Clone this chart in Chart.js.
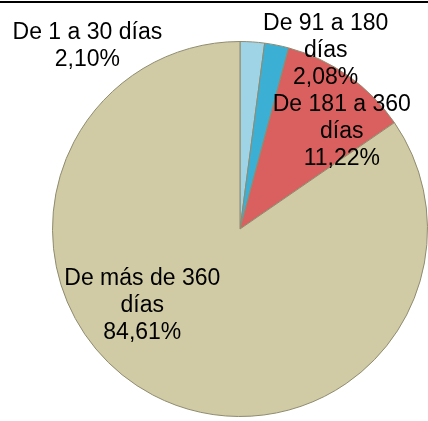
<!DOCTYPE html>
<html>
<head>
<meta charset="utf-8">
<script src="https://cdn.jsdelivr.net/npm/chart.js@4"></script>
<style>
  html, body { margin: 0; padding: 0; background: #fff; }
  #wrap { width: 428px; height: 421px; position: relative; }
</style>
</head>
<body>
<div id="wrap"><canvas id="pieChart"></canvas></div>
<script>
// Data
const categories = ['De 1 a 30 días', 'De 91 a 180 días', 'De 181 a 360 días', 'De más de 360 días'];
const shares = [2.10, 2.08, 11.22, 84.61];
const sliceColors = ['#9fd4e6', '#3cafd4', '#d9605e', '#d0cba4'];

// label text lines (as in the picture) and where they sit, relative to the pie radius
const labelLines = [
  ['De 1 a 30 días', '2,10%'],
  ['De 91 a 180', 'días', '2,08%'],
  ['De 181 a 360', 'días', '11,22%'],
  ['De más de 360', 'días', '84,61%']
];
const labelOffsets = [[-0.814, -0.973], [0.457, -0.952], [0.543, -0.521], [-0.521, 0.41]];

// Draw the data labels and the top frame line
const labelPlugin = {
  id: 'pieLabels',
  afterDatasetsDraw(chart) {
    const ctx = chart.ctx;
    const arcs = chart.getDatasetMeta(0).data;
    ctx.save();
    ctx.fillStyle = '#000';
    ctx.font = '23px "Liberation Sans", Arial, sans-serif';
    ctx.textAlign = 'center';
    ctx.textBaseline = 'middle';
    const lh = 27;
    arcs.forEach((arc, i) => {
      const r = arc.outerRadius;
      const cx = arc.x + labelOffsets[i][0] * r;
      const cy = arc.y + labelOffsets[i][1] * r;
      const lines = labelLines[i];
      const y0 = cy - (lines.length - 1) * lh / 2;
      lines.forEach((t, k) => ctx.fillText(t, cx, y0 + k * lh));
    });
    // frame line at the top
    ctx.strokeStyle = '#000';
    ctx.lineWidth = 2;
    ctx.beginPath();
    ctx.moveTo(0, 2);
    ctx.lineTo(chart.width, 2);
    ctx.stroke();
    ctx.restore();
  }
};

const ctx = document.getElementById('pieChart').getContext('2d');

new Chart(ctx, {
  type: 'pie',
  data: {
    labels: categories,
    datasets: [{
      data: shares,
      backgroundColor: sliceColors,
      borderColor: '#8f8b70',
      borderWidth: 1,
      hoverOffset: 0
    }]
  },
  options: {
    responsive: true,
    maintainAspectRatio: false,
    animation: false,
    layout: {
      padding: { left: 52, right: 0, top: 41, bottom: 4 }
    },
    plugins: {
      legend: { display: false },
      tooltip: { enabled: false }
    }
  },
  plugins: [labelPlugin]
});
</script>
</body>
</html>
